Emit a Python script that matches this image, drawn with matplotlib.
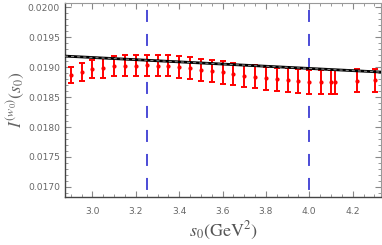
import matplotlib
matplotlib.use("Agg")
import matplotlib.pyplot as plt
from matplotlib.ticker import MultipleLocator, FormatStrFormatter

# data
s0 = [2.90, 2.95, 3.00, 3.05, 3.10, 3.15, 3.20, 3.25, 3.30, 3.35,
      3.40, 3.45, 3.50, 3.55, 3.60, 3.65, 3.70, 3.75, 3.80, 3.85,
      3.90, 3.95, 4.00, 4.055, 4.10, 4.12, 4.22, 4.305]
I_w0 = [0.018867, 0.018922, 0.018967, 0.018989, 0.019017, 0.019022, 0.019022, 0.019028, 0.019022, 0.019022,
        0.019005, 0.018978, 0.018950, 0.018933, 0.018912, 0.018883, 0.018850, 0.018838, 0.018812, 0.018795,
        0.018783, 0.018767, 0.018755, 0.018745, 0.018745, 0.018745, 0.018772, 0.018783]
I_err = [0.000139, 0.000150, 0.000150, 0.000165, 0.000167, 0.000175, 0.000175, 0.000175, 0.000175, 0.000178,
         0.000180, 0.000183, 0.000185, 0.000185, 0.000188, 0.000190, 0.000190, 0.000192, 0.000192, 0.000195,
         0.000198, 0.000198, 0.000200, 0.000200, 0.000200, 0.000200, 0.000195, 0.000192]

fit_x = [2.873, 4.33]
fit_y = [0.019183, 0.018917]

window = [3.25, 4.0]

plt.rcParams['mathtext.fontset'] = 'stix'
plt.rcParams['lines.scale_dashes'] = False

fig = plt.figure(figsize=(3.82, 2.45), dpi=100)
ax = fig.add_axes([0.170, 0.196, 0.827, 0.792])

ax.plot(fit_x, fit_y, color='black', lw=2.0, zorder=3)
ax.plot(fit_x, fit_y, color='#888888', lw=0.8, ls=(0, (2.2, 2.2)), zorder=4)

ax.errorbar(s0, I_w0, yerr=I_err, fmt='o', color='red', ms=2, lw=1.4,
            capsize=2.4, capthick=1.4, zorder=2)

# dashes: 12px on, 12px off, 7px gap at the bottom
for xv in window:
    ax.axvline(xv, color='#1a1acc', lw=1.1, ls=(12.2, (8.64, 8.64)), zorder=1)

ax.set_xlim(2.873, 4.33)
ax.set_ylim(0.016833, 0.02007)

ax.xaxis.set_major_locator(MultipleLocator(0.2))
ax.xaxis.set_minor_locator(MultipleLocator(0.05))
ax.yaxis.set_major_locator(MultipleLocator(0.0005))
ax.yaxis.set_minor_locator(MultipleLocator(0.0001))
ax.xaxis.set_major_formatter(FormatStrFormatter('%.1f'))
ax.yaxis.set_major_formatter(FormatStrFormatter('%.4f'))

ax.tick_params(which='both', direction='in', top=True, right=True,
               labelsize=6.6, labelcolor='#666666', color='#888888')
ax.tick_params(which='major', length=4, width=0.8)
ax.tick_params(which='minor', length=2, width=0.6)
ax.tick_params(axis='x', pad=7)

for side in ['left', 'bottom']:
    ax.spines[side].set_color('#444444')
    ax.spines[side].set_linewidth(1.0)
for side in ['top', 'right']:
    ax.spines[side].set_color('#999999')
    ax.spines[side].set_linewidth(0.8)

ax.set_xlabel(r'$s_0(\mathrm{GeV}^2)$', fontsize=13, color='#555555', labelpad=3)
ax.set_ylabel(r'$I^{(w_0)}(s_0)$', fontsize=12.5, color='#666666', labelpad=1)

fig.savefig('out.png', dpi=100)
